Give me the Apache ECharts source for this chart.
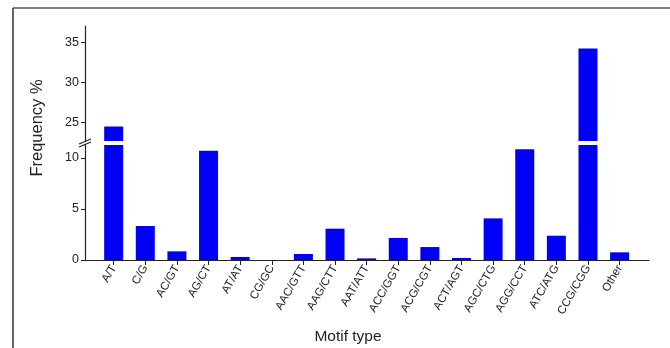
<!DOCTYPE html>
<html>
<head>
<meta charset="utf-8">
<script src="https://cdn.jsdelivr.net/npm/echarts@6/dist/echarts.min.js"></script>
<style>
html,body{margin:0;padding:0;background:#fff;}
#chart{width:670px;height:348px;}
</style>
</head>
<body>
<div id="chart"></div>
<script>
const categories = ['A/T','C/G','AC/GT','AG/CT','AT/AT','CG/GC','AAC/GTT','AAG/CTT','AAT/ATT','ACC/GGT','ACG/CGT','ACT/AGT','AGC/CTG','AGG/CCT','ATC/ATG','CCG/CGG','Other'];
const frequency = [24.5, 3.33, 0.85, 10.7, 0.3, 0, 0.59, 3.07, 0.16, 2.16, 1.27, 0.2, 4.08, 10.85, 2.38, 34.2, 0.75];
const lowerTicks = [0, 5, 10];
const upperTicks = [25, 30, 35];
const lowerRange = [0, 11.27];
const upperRange = [22.7, 37];
const yTitle = 'Frequency %';
const xTitle = 'Motif type';

const chart = echarts.init(document.getElementById('chart'));
const idx = categories.map((c, i) => i);
const barData = frequency.map((v, i) => [i, v]);
const font = 'Liberation Sans, Arial, sans-serif';
const axisCol = '#222';

const yCommon = {
  type: 'value',
  axisLine: {show: true, onZero: false, lineStyle: {color: axisCol, width: 1.2}},
  axisTick: {show: true, inside: false, length: 4, lineStyle: {color: axisCol, width: 1}},
  axisLabel: {color: '#222', fontFamily: font, fontSize: 12.5, margin: 6},
  splitLine: {show: false}
};

chart.setOption({
  animation: false,
  backgroundColor: '#fff',
  grid: [
    {left: 85, right: 21, top: 26, height: 115},
    {left: 85, right: 21, top: 145, height: 115}
  ],
  xAxis: [
    {gridIndex: 0, type: 'value', min: -0.907, max: 16.93, show: false},
    {gridIndex: 1, type: 'value', min: -0.907, max: 16.93,
     axisLine: {show: true, onZero: false, lineStyle: {color: axisCol, width: 1.2}},
     axisTick: {show: true, length: 5, customValues: idx, lineStyle: {color: axisCol}},
     axisLabel: {customValues: idx, rotate: 60, fontSize: 11.5, fontFamily: font, color: '#222', margin: 6,
       formatter: v => categories[Math.round(v)]},
     splitLine: {show: false}}
  ],
  yAxis: [
    Object.assign({}, yCommon, {gridIndex: 0, min: upperRange[0], max: upperRange[1],
      axisTick: Object.assign({}, yCommon.axisTick, {customValues: upperTicks}),
      axisLabel: Object.assign({}, yCommon.axisLabel, {customValues: upperTicks})}),
    Object.assign({}, yCommon, {gridIndex: 1, min: lowerRange[0], max: lowerRange[1],
      axisTick: Object.assign({}, yCommon.axisTick, {customValues: lowerTicks}),
      axisLabel: Object.assign({}, yCommon.axisLabel, {customValues: lowerTicks})})
  ],
  series: [
    {type: 'bar', xAxisIndex: 0, yAxisIndex: 0, data: barData, barWidth: 19, clip: true,
     itemStyle: {color: '#0000f6'}},
    {type: 'bar', xAxisIndex: 1, yAxisIndex: 1, data: barData, barWidth: 19, clip: true,
     itemStyle: {color: '#0000f6'}}
  ],
  graphic: [
    {type: 'line', shape: {x1: 13, y1: 8, x2: 670, y2: 8}, style: {stroke: '#555', lineWidth: 1.5}},
    {type: 'line', shape: {x1: 13, y1: 8, x2: 13, y2: 348}, style: {stroke: '#333', lineWidth: 1.5}},
    {type: 'line', shape: {x1: 79, y1: 144, x2: 91, y2: 139}, style: {stroke: axisCol, lineWidth: 1.2}},
    {type: 'line', shape: {x1: 79, y1: 147, x2: 91, y2: 142}, style: {stroke: axisCol, lineWidth: 1.2}},
    {type: 'text', x: 37, y: 128, rotation: Math.PI / 2,
     style: {text: yTitle, font: '16.5px ' + font, fill: '#222', align: 'center', verticalAlign: 'middle'}},
    {type: 'text', x: 348, y: 337,
     style: {text: xTitle, font: '15.5px ' + font, fill: '#222', align: 'center', verticalAlign: 'middle'}}
  ]
});
</script>
</body>
</html>
